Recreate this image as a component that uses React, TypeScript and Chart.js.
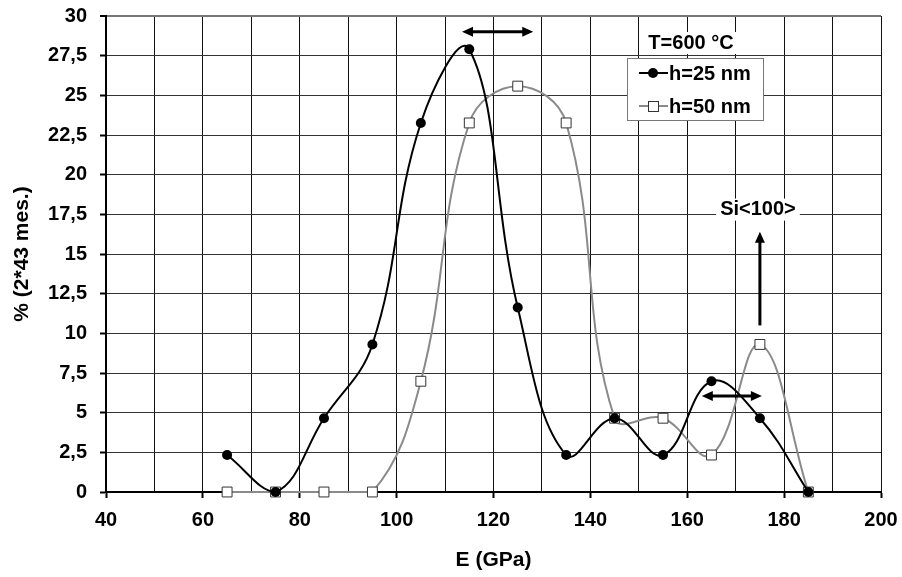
import React, { useEffect, useRef } from 'react';
import { Chart, registerables } from 'chart.js';

Chart.register(...registerables);

// ---- Data ----
const energiesGPa = [65, 75, 85, 95, 105, 115, 125, 135, 145, 155, 165, 175, 185];
const h25Percent = [2.33, 0, 4.65, 9.3, 23.26, 27.91, 11.63, 2.33, 4.65, 2.33, 6.98, 4.65, 0];
const h50Percent = [0, 0, 0, 0, 6.98, 23.26, 25.58, 23.26, 4.65, 4.65, 2.33, 9.3, 0];

const seriesLabels = ['h=25 nm', 'h=50 nm'];
const legendTitle = 'T=600 °C';
const xTitle = 'E (GPa)';
const yTitle = '% (2*43 mes.)';
const siLabel = 'Si<100>';

// annotation arrows in data units: [x1, y1, x2, y2, doubleHeaded]
const arrowTop = [113.5, 29.0, 128.2, 29.0, 1];
const arrowLow = [163.0, 6.05, 175.4, 6.05, 1];
const arrowSi = [175, 10.5, 175, 16.4, 0];
const siLabelPos = [174.6, 17.8];

const FONT = '"Liberation Sans", Arial, Helvetica, sans-serif';

function drawHead(ctx: CanvasRenderingContext2D, x: number, y: number, ang: number) {
  const len = 11;
  const hw = 5;
  ctx.beginPath();
  ctx.moveTo(x, y);
  ctx.lineTo(x - len * Math.cos(ang) + hw * Math.sin(ang), y - len * Math.sin(ang) - hw * Math.cos(ang));
  ctx.lineTo(x - len * Math.cos(ang) - hw * Math.sin(ang), y - len * Math.sin(ang) + hw * Math.cos(ang));
  ctx.closePath();
  ctx.fill();
}

function drawArrow(chart: any, a: number[]) {
  const ctx = chart.ctx as CanvasRenderingContext2D;
  const xs = chart.scales.x;
  const ys = chart.scales.y;
  const x1 = xs.getPixelForValue(a[0]);
  const y1 = ys.getPixelForValue(a[1]);
  const x2 = xs.getPixelForValue(a[2]);
  const y2 = ys.getPixelForValue(a[3]);
  const ang = Math.atan2(y2 - y1, x2 - x1);
  ctx.save();
  ctx.strokeStyle = '#000';
  ctx.fillStyle = '#000';
  ctx.lineWidth = 3;
  ctx.beginPath();
  const inset = 6;
  const sx = a[4] ? x1 + inset * Math.cos(ang) : x1;
  const sy = a[4] ? y1 + inset * Math.sin(ang) : y1;
  ctx.moveTo(sx, sy);
  ctx.lineTo(x2 - inset * Math.cos(ang), y2 - inset * Math.sin(ang));
  ctx.stroke();
  drawHead(ctx, x2, y2, ang);
  if (a[4]) drawHead(ctx, x1, y1, ang + Math.PI);
  ctx.restore();
}

const annotationPlugin = {
  id: 'annotations',
  afterDraw(chart: any) {
    const ctx = chart.ctx as CanvasRenderingContext2D;
    const xs = chart.scales.x;
    const ys = chart.scales.y;
    drawArrow(chart, arrowTop);
    drawArrow(chart, arrowLow);
    drawArrow(chart, arrowSi);

    ctx.save();
    ctx.font = `bold 20px ${FONT}`;
    ctx.textBaseline = 'middle';
    ctx.textAlign = 'center';
    // Si label
    const sx = xs.getPixelForValue(siLabelPos[0]);
    const sy = ys.getPixelForValue(siLabelPos[1]);
    const sw = ctx.measureText(siLabel).width;
    ctx.fillStyle = '#fff';
    ctx.fillRect(sx - sw / 2 - 4, sy - 11, sw + 8, 22);
    ctx.fillStyle = '#000';
    ctx.fillText(siLabel, sx, sy);

    // Legend
    const ca = chart.chartArea;
    const bx = ca.right - 254;
    const by = ca.top + 42;
    const bw = 136;
    const bh = 62;
    // title
    const tx = bx + 64;
    const ty = ca.top + 27;
    const tw = ctx.measureText(legendTitle).width;
    ctx.fillStyle = '#fff';
    ctx.fillRect(tx - tw / 2 - 3, ty - 11, tw + 6, 22);
    ctx.fillStyle = '#000';
    ctx.fillText(legendTitle, tx, ty);

    ctx.fillStyle = '#fff';
    ctx.fillRect(bx, by, bw, bh);
    ctx.strokeStyle = '#777';
    ctx.lineWidth = 1;
    ctx.strokeRect(bx + 0.5, by + 0.5, bw, bh);

    const rows = [by + 15, by + 48];
    const lx1 = bx + 12;
    const lx2 = bx + 41;
    const mx = bx + 26;
    // row 1
    ctx.strokeStyle = '#000';
    ctx.lineWidth = 2;
    ctx.beginPath();
    ctx.moveTo(lx1, rows[0]);
    ctx.lineTo(lx2, rows[0]);
    ctx.stroke();
    ctx.fillStyle = '#000';
    ctx.beginPath();
    ctx.arc(mx, rows[0], 5, 0, Math.PI * 2);
    ctx.fill();
    // row 2
    ctx.strokeStyle = '#8a8a8a';
    ctx.beginPath();
    ctx.moveTo(lx1, rows[1]);
    ctx.lineTo(lx2, rows[1]);
    ctx.stroke();
    ctx.fillStyle = '#fff';
    ctx.fillRect(mx - 5, rows[1] - 5, 10, 10);
    ctx.strokeStyle = '#333';
    ctx.lineWidth = 1;
    ctx.strokeRect(mx - 5 + 0.5, rows[1] - 5 + 0.5, 10, 10);

    ctx.fillStyle = '#000';
    ctx.textAlign = 'left';
    ctx.fillText(seriesLabels[0], lx2 + 1, rows[0] + 1);
    ctx.fillText(seriesLabels[1], lx2 + 1, rows[1] + 1);
    ctx.restore();
  },
};

export default function App() {
  const ref = useRef<HTMLCanvasElement | null>(null);

  useEffect(() => {
    if (!ref.current) return;
    const chart = new Chart(ref.current, {
      type: 'line',
      data: {
        datasets: [
          {
            label: seriesLabels[0],
            data: energiesGPa.map((x, i) => ({ x, y: h25Percent[i] })),
            borderColor: '#000',
            backgroundColor: '#000',
            borderWidth: 2,
            pointStyle: 'circle',
            pointRadius: 5,
            pointBorderWidth: 0,
            pointBackgroundColor: '#000',
            tension: 0.4,
            clip: false as any,
          },
          {
            label: seriesLabels[1],
            data: energiesGPa.map((x, i) => ({ x, y: h50Percent[i] })),
            borderColor: '#8a8a8a',
            backgroundColor: '#fff',
            borderWidth: 2,
            pointStyle: 'rect',
            pointRadius: 7,
            pointBorderWidth: 1,
            pointBorderColor: '#333',
            pointBackgroundColor: '#fff',
            tension: 0.4,
            clip: false as any,
          },
        ],
      },
      options: {
        animation: false,
        responsive: false,
        events: [],
        layout: { autoPadding: false, padding: { left: 0, top: 16, right: 21, bottom: 0 } },
        plugins: { legend: { display: false }, tooltip: { enabled: false } },
        scales: {
          x: {
            type: 'linear',
            min: 40,
            max: 200,
            afterFit: (s: any) => {
              s.height = 85;
              s.paddingLeft = 0;
              s.paddingRight = 0;
            },
            ticks: {
              stepSize: 10,
              padding: 10,
              color: '#000',
              font: { family: FONT, size: 20, weight: 'bold' },
              callback: (v: any) => (Number(v) % 20 === 0 ? String(v) : ''),
            },
            grid: {
              color: '#111',
              lineWidth: 1,
              tickLength: 6,
              tickColor: (c: any) => (c.tick && c.tick.value % 20 === 0 ? '#000' : 'rgba(0,0,0,0)'),
              tickWidth: 2,
            },
            border: { color: '#000', width: 2 },
            title: {
              display: true,
              text: xTitle,
              color: '#000',
              font: { family: FONT, size: 21, weight: 'bold' },
              padding: { top: 0, bottom: 4.4 },
            },
          },
          y: {
            type: 'linear',
            min: 0,
            max: 30,
            afterFit: (s: any) => {
              s.width = 106;
              s.paddingTop = 0;
              s.paddingBottom = 0;
            },
            ticks: {
              stepSize: 2.5,
              padding: 13,
              color: '#000',
              font: { family: FONT, size: 20, weight: 'bold' },
              callback: (v: any) => String(v).replace('.', ','),
            },
            grid: {
              color: (c: any) => (c.tick && c.tick.value === 30 ? '#777' : '#333'),
              lineWidth: (c: any) => (c.tick && c.tick.value === 30 ? 2 : 1),
              tickLength: 6,
              tickColor: '#000',
              tickWidth: 2,
            },
            border: { color: '#000', width: 2 },
            title: {
              display: true,
              text: yTitle,
              color: '#000',
              font: { family: FONT, size: 21, weight: 'bold' },
              padding: { top: 9.4, bottom: 0 },
            },
          },
        },
      },
      plugins: [annotationPlugin],
    });
    return () => chart.destroy();
  }, []);

  return (
    <div style={{ position: 'absolute', left: 0, top: 0, width: 902, height: 577, background: '#fff' }}>
      <canvas ref={ref} width={902} height={577} style={{ display: 'block' }} />
    </div>
  );
}
